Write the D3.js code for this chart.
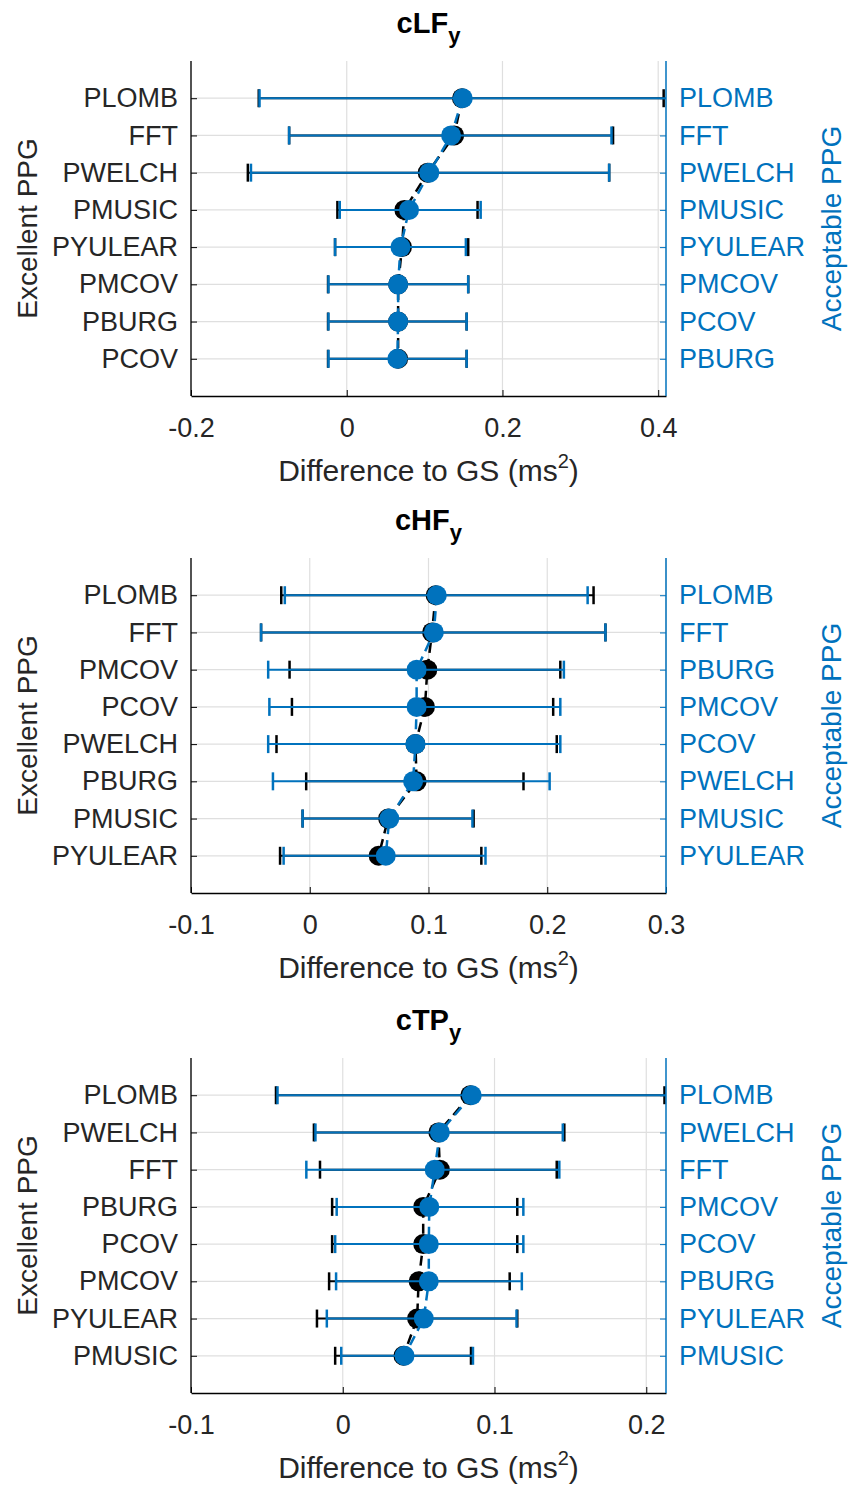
<!DOCTYPE html>
<html>
<head>
<meta charset="utf-8">
<script src="https://cdn.jsdelivr.net/npm/d3@7"></script>
<style>
  body { margin: 0; background: #fff; }
  text { font-family: "Liberation Sans", Arial, sans-serif; }
</style>
</head>
<body>
<script>
// cLF panel
var titles = ["cLF", "cHF", "cTP"];
var leftCats1 = ["PLOMB", "FFT", "PWELCH", "PMUSIC", "PYULEAR", "PMCOV", "PBURG", "PCOV"];
var rightCats1 = ["PLOMB", "FFT", "PWELCH", "PMUSIC", "PYULEAR", "PMCOV", "PCOV", "PBURG"];
var excMean1 = [0.148, 0.138, 0.104, 0.074, 0.071, 0.066, 0.066, 0.066];
var excLo1 = [-0.113, -0.074, -0.127, -0.012, -0.015, -0.024, -0.024, -0.024];
var excHi1 = [0.407, 0.342, 0.337, 0.168, 0.156, 0.156, 0.154, 0.154];
var accMean1 = [0.149, 0.134, 0.106, 0.080, 0.069, 0.066, 0.066, 0.065];
var accLo1 = [-0.112, -0.074, -0.123, -0.009, -0.015, -0.0235, -0.0235, -0.0235];
var accHi1 = [0.42, 0.340, 0.337, 0.172, 0.153, 0.156, 0.154, 0.154];
var xTicks1 = [-0.2, 0, 0.2, 0.4];

// cHF panel
var leftCats2 = ["PLOMB", "FFT", "PMCOV", "PCOV", "PWELCH", "PBURG", "PMUSIC", "PYULEAR"];
var rightCats2 = ["PLOMB", "FFT", "PBURG", "PMCOV", "PCOV", "PWELCH", "PMUSIC", "PYULEAR"];
var excMean2 = [0.106, 0.103, 0.099, 0.097, 0.089, 0.090, 0.066, 0.058];
var excLo2 = [-0.024, -0.041, -0.017, -0.015, -0.028, -0.003, -0.006, -0.025];
var excHi2 = [0.239, 0.249, 0.211, 0.205, 0.208, 0.180, 0.138, 0.1445];
var accMean2 = [0.107, 0.1045, 0.090, 0.090, 0.089, 0.087, 0.067, 0.064];
var accLo2 = [-0.021, -0.041, -0.035, -0.034, -0.035, -0.031, -0.006, -0.022];
var accHi2 = [0.234, 0.249, 0.214, 0.211, 0.211, 0.202, 0.137, 0.148];
var xTicks2 = [-0.1, 0, 0.1, 0.2, 0.3];

// cTP panel
var leftCats3 = ["PLOMB", "PWELCH", "FFT", "PBURG", "PCOV", "PMCOV", "PYULEAR", "PMUSIC"];
var rightCats3 = ["PLOMB", "PWELCH", "FFT", "PMCOV", "PCOV", "PBURG", "PYULEAR", "PMUSIC"];
var excMean3 = [0.084, 0.063, 0.064, 0.053, 0.053, 0.050, 0.049, 0.040];
var excLo3 = [-0.044, -0.019, -0.015, -0.007, -0.007, -0.009, -0.017, -0.005];
var excHi3 = [0.212, 0.146, 0.141, 0.115, 0.115, 0.110, 0.115, 0.0845];
var accMean3 = [0.085, 0.064, 0.0606, 0.057, 0.0567, 0.0567, 0.0534, 0.0407];
var accLo3 = [-0.043, -0.018, -0.024, -0.004, -0.005, -0.0044, -0.0105, -0.001];
var accHi3 = [0.215, 0.145, 0.1427, 0.119, 0.119, 0.118, 0.1145, 0.0858];
var xTicks3 = [-0.1, 0, 0.1, 0.2];

var xDomains = [[-0.2, 0.41], [-0.1, 0.3], [-0.1, 0.213]];

var width = 852, height = 1486;
var blue = "#0072BD", black = "#000", textCol = "#262626";
var left = 191, right = 666, plotH = 335;
var tops = [61, 558, 1058];

var svg = d3.select("body").append("svg")
	.attr("width", width)
	.attr("height", height);

var panels = [
	{ lc: leftCats1, rc: rightCats1, em: excMean1, el: excLo1, eh: excHi1, am: accMean1, al: accLo1, ah: accHi1, ticks: xTicks1 },
	{ lc: leftCats2, rc: rightCats2, em: excMean2, el: excLo2, eh: excHi2, am: accMean2, al: accLo2, ah: accHi2, ticks: xTicks2 },
	{ lc: leftCats3, rc: rightCats3, em: excMean3, el: excLo3, eh: excHi3, am: accMean3, al: accLo3, ah: accHi3, ticks: xTicks3 }
];

panels.forEach(function(p, k) {
	var top = tops[k], bottom = top + plotH;
	var x = d3.scaleLinear().domain(xDomains[k]).range([left, right]);
	var yL = d3.scalePoint().domain(p.lc).range([top, bottom]).padding(1);
	var yR = d3.scalePoint().domain(p.rc).range([top, bottom]).padding(1);

	var g = svg.append("g");
	var clipId = "clip" + k;
	svg.append("clipPath").attr("id", clipId).append("rect")
		.attr("x", left).attr("y", top).attr("width", right - left).attr("height", plotH);

	// grid
	g.selectAll(".vg").data(p.ticks).enter().append("line")
		.attr("x1", function(d) { return x(d); })
		.attr("x2", function(d) { return x(d); })
		.attr("y1", top).attr("y2", bottom)
		.attr("stroke", "#dfdfdf").attr("stroke-width", 1.2);
	g.selectAll(".hg").data(p.lc).enter().append("line")
		.attr("x1", left).attr("x2", right)
		.attr("y1", function(d) { return yL(d); })
		.attr("y2", function(d) { return yL(d); })
		.attr("stroke", "#dfdfdf").attr("stroke-width", 1.2);

	var plot = g.append("g").attr("clip-path", "url(#" + clipId + ")");

	function series(cats, y, mean, lo, hi, col) {
		var rows = cats.map(function(c, i) { return { c: c, m: mean[i], lo: lo[i], hi: hi[i] }; });
		plot.append("path").datum(rows)
			.attr("fill", "none").attr("stroke", col).attr("stroke-width", 2.5)
			.attr("stroke-dasharray", "10,6")
			.attr("d", d3.line().x(function(d) { return x(d.m); }).y(function(d) { return y(d.c); }));
		plot.selectAll(null).data(rows).enter().append("line")
			.attr("x1", function(d) { return x(d.lo); })
			.attr("x2", function(d) { return x(d.hi); })
			.attr("y1", function(d) { return y(d.c); })
			.attr("y2", function(d) { return y(d.c); })
			.attr("stroke", col).attr("stroke-width", 2);
		["lo", "hi"].forEach(function(key) {
			plot.selectAll(null).data(rows).enter().append("line")
				.attr("x1", function(d) { return x(d[key]); })
				.attr("x2", function(d) { return x(d[key]); })
				.attr("y1", function(d) { return y(d.c) - 9; })
				.attr("y2", function(d) { return y(d.c) + 9; })
				.attr("stroke", col).attr("stroke-width", 2.5);
		});
		plot.selectAll(null).data(rows).enter().append("circle")
			.attr("cx", function(d) { return x(d.m); })
			.attr("cy", function(d) { return y(d.c); })
			.attr("r", 10)
			.attr("fill", col);
	}
	series(p.lc, yL, p.em, p.el, p.eh, black);
	series(p.rc, yR, p.am, p.al, p.ah, blue);

	// axes
	var ax = g.append("g").attr("transform", "translate(0," + bottom + ")")
		.call(d3.axisBottom(x).tickValues(p.ticks).tickSizeInner(-6).tickSizeOuter(0).tickPadding(22)
			.tickFormat(function(d) { return String(d); }));
	ax.select(".domain").attr("stroke", black).attr("stroke-width", 1.3);
	ax.selectAll(".tick line").attr("stroke", black);
	ax.selectAll("text").attr("font-size", "27px").attr("fill", textCol)
		.attr("font-family", "Liberation Sans, Arial, sans-serif");

	var ayl = g.append("g").attr("transform", "translate(" + left + ",0)")
		.call(d3.axisLeft(yL).tickSizeInner(-6).tickSizeOuter(0).tickPadding(13));
	ayl.select(".domain").attr("stroke", black).attr("stroke-width", 1.3)
		.attr("d", "M0," + top + "V" + bottom);
	ayl.selectAll(".tick line").attr("stroke", black);
	ayl.selectAll("text").attr("font-size", "27px").attr("fill", textCol)
		.attr("font-family", "Liberation Sans, Arial, sans-serif");

	var ayr = g.append("g").attr("transform", "translate(" + right + ",0)")
		.call(d3.axisRight(yR).tickSizeInner(-6).tickSizeOuter(0).tickPadding(13));
	ayr.select(".domain").attr("stroke", blue).attr("stroke-width", 1.5)
		.attr("d", "M0," + top + "V" + bottom);
	ayr.selectAll(".tick line").attr("stroke", blue);
	ayr.selectAll("text").attr("font-size", "27px").attr("fill", blue)
		.attr("font-family", "Liberation Sans, Arial, sans-serif");

	// title
	var t = g.append("text").attr("x", (left + right) / 2).attr("y", top - 28)
		.attr("text-anchor", "middle").attr("font-size", "29px").attr("font-weight", "bold").attr("fill", black)
		.text(titles[k]);
	t.append("tspan").attr("dy", 10).attr("font-size", "22px").text("y");

	// x label
	var xl = g.append("text").attr("x", (left + right) / 2).attr("y", bottom + 85)
		.attr("text-anchor", "middle").attr("font-size", "30px").attr("fill", textCol)
		.text("Difference to GS (ms");
	xl.append("tspan").attr("dy", -13).attr("font-size", "20px").text("2");
	xl.append("tspan").attr("dy", 13).text(")");

	// y labels
	g.append("text").attr("transform", "translate(37," + (top + plotH / 2) + ") rotate(-90)")
		.attr("text-anchor", "middle").attr("font-size", "28px").attr("fill", textCol)
		.text("Excellent PPG");
	g.append("text").attr("transform", "translate(841," + (top + plotH / 2) + ") rotate(-90)")
		.attr("text-anchor", "middle").attr("font-size", "28px").attr("fill", blue)
		.text("Acceptable PPG");
});
</script>
</body>
</html>
